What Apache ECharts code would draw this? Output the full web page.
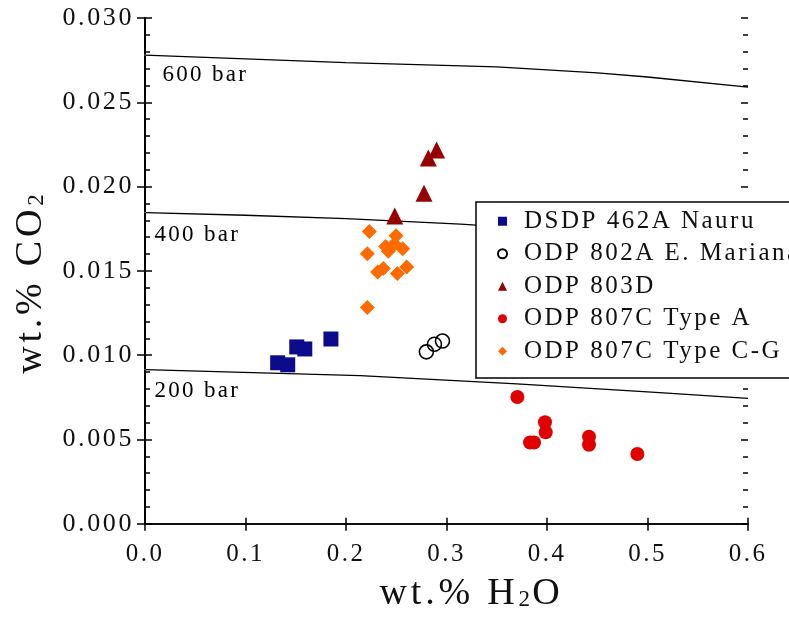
<!DOCTYPE html>
<html><head><meta charset="utf-8">
<script src="https://cdn.jsdelivr.net/npm/echarts@6/dist/echarts.min.js"></script>
<style>html,body{margin:0;padding:0;background:#fff}#c{width:789px;height:620px}</style>
</head><body><div id="c"></div>
<script>
// slight letter tracking like the original typeset figure
(function(){
  var P = CanvasRenderingContext2D.prototype;
  if (!('letterSpacing' in P)) return;
  var f = P.fillText, m = P.measureText;
  function ls(ctx){ var mm = /(\d+(?:\.\d+)?)px/.exec(ctx.font); ctx.letterSpacing = mm ? (parseFloat(mm[1]) * 0.1).toFixed(2) + 'px' : '0px'; }
  P.fillText = function(t, x, y, w){ ls(this); return w === undefined ? f.call(this, t, x, y) : f.call(this, t, x, y, w); };
  P.measureText = function(t){ ls(this); return m.call(this, t); };
})();

const seriesNames = ['DSDP 462A Nauru', 'ODP 802A E. Mariana', 'ODP 803D', 'ODP 807C Type A', 'ODP 807C Type C-G'];

const dsdpH2O = [0.132, 0.142, 0.151, 0.159, 0.185];
const dsdpCO2 = [0.00955, 0.00943, 0.01049, 0.01037, 0.01096];

const odp802H2O = [0.280, 0.288, 0.296];
const odp802CO2 = [0.0102, 0.01065, 0.01084];

const odp803H2O = [0.2485, 0.2776, 0.2819, 0.2902];
const odp803CO2 = [0.01825, 0.0196, 0.0217, 0.02217];

const odp807AH2O = [0.3705, 0.398, 0.3987, 0.3831, 0.3871, 0.4418, 0.4418, 0.4899];
const odp807ACO2 = [0.00752, 0.00602, 0.00543, 0.00482, 0.00482, 0.00517, 0.00469, 0.00414];

const odp807CGH2O = [0.2232, 0.2212, 0.2395, 0.2421, 0.2481, 0.2498, 0.2564, 0.2315, 0.2371, 0.2511, 0.2604, 0.2212];
const odp807CGCO2 = [0.01733, 0.01602, 0.01645, 0.01617, 0.0166, 0.01709, 0.01631, 0.01494, 0.01514, 0.01484, 0.01523, 0.01283];

const isobarNames = ['600 bar', '400 bar', '200 bar'];
const bar600H2O = [0, 0.2, 0.35, 0.45, 0.5, 0.6];
const bar600CO2 = [0.0278, 0.02735, 0.0271, 0.02675, 0.0265, 0.0259];
const bar400H2O = [0, 0.1, 0.2, 0.314, 0.4, 0.5, 0.6];
const bar400CO2 = [0.01846, 0.0183, 0.0181, 0.01777, 0.01745, 0.0170, 0.0165];
const bar200H2O = [0, 0.214, 0.37, 0.512, 0.6];
const bar200CO2 = [0.00914, 0.00879, 0.0083, 0.00778, 0.00744];

const xTicks = ['0.0', '0.1', '0.2', '0.3', '0.4', '0.5', '0.6'];
const yTicks = ['0.000', '0.005', '0.010', '0.015', '0.020', '0.025', '0.030'];

function zip(a, b){ return a.map((v, i) => [v, b[i]]); }

const FONT = 'Liberation Serif';
const chart = echarts.init(document.getElementById('c'), null, {renderer: 'canvas'});

const xBase = {type: 'value', min: 0, max: 0.6, interval: 0.1, splitLine: {show: false}, gridIndex: 0};
const yBase = {type: 'value', min: 0, max: 0.03, interval: 0.005, splitLine: {show: false}, gridIndex: 0};
const lineBlack = {show: true, lineStyle: {color: '#000', width: 1.5}};
const titleRich = {
  a: {fontFamily: FONT, fontSize: 38, color: '#111', lineHeight: 38},
  b: {fontFamily: FONT, fontSize: 23, color: '#111', verticalAlign: 'bottom', lineHeight: 18}
};

const isobars = [zip(bar600H2O, bar600CO2), zip(bar400H2O, bar400CO2), zip(bar200H2O, bar200CO2)];
const labelOffsets = [[12, 20], [4, 22], [4, 21]];

chart.setOption({
  animation: false,
  backgroundColor: '#fff',
  grid: {left: 145, right: 41, top: 18, bottom: 90},
  xAxis: [
    Object.assign({}, xBase, {
      position: 'bottom',
      axisLine: lineBlack,
      axisTick: {show: true, inside: false, length: 7, lineStyle: {color: '#000', width: 1.5}},
      axisLabel: {show: true, margin: 17, color: '#111', fontFamily: FONT, fontSize: 25,
        formatter: (v) => xTicks[Math.round(v * 10)]},
      name: '{a|wt.% H}{b|2}{a|O}',
      nameLocation: 'middle',
      nameGap: 44,
      nameTextStyle: {color: '#111', fontFamily: FONT, fontSize: 38, padding: [0, 0, 0, 50], rich: titleRich}
    }),
    Object.assign({}, xBase, {
      position: 'bottom',
      axisLine: {show: false},
      axisTick: {show: true, inside: true, length: 6, lineStyle: {color: '#000', width: 1.5}},
      axisLabel: {show: false}
    }),
    Object.assign({}, xBase, {
      position: 'top',
      axisLine: lineBlack,
      axisTick: {show: true, inside: true, length: 6, lineStyle: {color: '#000', width: 1.5}},
      axisLabel: {show: false}
    })
  ],
  yAxis: [
    Object.assign({}, yBase, {
      position: 'left',
      axisLine: {show: true, lineStyle: {color: '#000', width: 2}},
      axisTick: {show: true, inside: false, length: 8, lineStyle: {color: '#000', width: 1.5}},
      axisLabel: {show: true, margin: 11, color: '#111', fontFamily: FONT, fontSize: 26,
        formatter: (v) => yTicks[Math.round(v / 0.005)]},
      name: '{a|wt.% CO}{b|2}',
      nameLocation: 'middle',
      nameRotate: 90,
      nameGap: 89,
      nameTextStyle: {color: '#111', fontFamily: FONT, fontSize: 38, padding: [0, 24, 0, 0], rich: titleRich}
    }),
    Object.assign({}, yBase, {
      position: 'left',
      axisLine: {show: false},
      axisTick: {show: true, inside: true, length: 7, lineStyle: {color: '#000', width: 1.5}},
      minorTick: {show: true, splitNumber: 5, length: 5, lineStyle: {color: '#000', width: 1.5}},
      axisLabel: {show: false}
    }),
    Object.assign({}, yBase, {
      position: 'right',
      axisLine: lineBlack,
      axisTick: {show: true, inside: false, length: 7, lineStyle: {color: '#000', width: 1.5}},
      axisLabel: {show: false}
    }),
    Object.assign({}, yBase, {
      position: 'right',
      axisLine: {show: false},
      axisTick: {show: true, inside: true, length: 7, lineStyle: {color: '#000', width: 1.5}},
      minorTick: {show: true, splitNumber: 5, length: 5, lineStyle: {color: '#000', width: 1.5}},
      axisLabel: {show: false}
    })
  ],
  legend: {
    orient: 'vertical',
    left: 476, top: 202,
    padding: [5.5, 40, 13, 21],
    itemWidth: 9, itemHeight: 9, itemGap: 5,
    backgroundColor: '#fff', borderColor: '#000', borderWidth: 1.5, borderRadius: 0,
    textStyle: {fontFamily: FONT, fontSize: 25, color: '#111', lineHeight: 25, padding: [0, 0, 0, 12]},
    data: seriesNames,
    selectedMode: false
  },
  series: [
    ...isobars.map((d, i) => ({
      type: 'line', name: isobarNames[i], data: d, symbol: 'none', silent: true,
      lineStyle: {color: '#000', width: 1.3}, z: 1
    })),
    {
      type: 'scatter', name: 'isobar labels', silent: true, z: 2,
      symbolSize: 1, itemStyle: {color: '#fff', opacity: 1},
      data: isobars.map((d, i) => ({
        value: d[0],
        label: {show: true, position: 'right', offset: labelOffsets[i], formatter: isobarNames[i],
          fontFamily: FONT, fontSize: 23, color: '#000', opacity: 1}
      }))
    },
    {type: 'scatter', name: seriesNames[0], data: zip(dsdpH2O, dsdpCO2), symbol: 'rect', symbolSize: 15,
      itemStyle: {color: '#0b0b8c', opacity: 1}, z: 3},
    {type: 'scatter', name: seriesNames[1], data: zip(odp802H2O, odp802CO2), symbol: 'circle', symbolSize: 14,
      itemStyle: {color: 'rgba(0,0,0,0)', borderColor: '#000', borderWidth: 1.6, opacity: 1}, z: 3},
    {type: 'scatter', name: seriesNames[2], data: zip(odp803H2O, odp803CO2), symbol: 'triangle', symbolSize: 17,
      itemStyle: {color: '#960000', opacity: 1}, z: 3},
    {type: 'scatter', name: seriesNames[3], data: zip(odp807AH2O, odp807ACO2), symbol: 'circle', symbolSize: 14,
      itemStyle: {color: '#e00000', opacity: 1}, z: 3},
    {type: 'scatter', name: seriesNames[4], data: zip(odp807CGH2O, odp807CGCO2), symbol: 'diamond', symbolSize: 15,
      itemStyle: {color: '#ff6a00', opacity: 1}, z: 3}
  ]
});
</script>
</body></html>
